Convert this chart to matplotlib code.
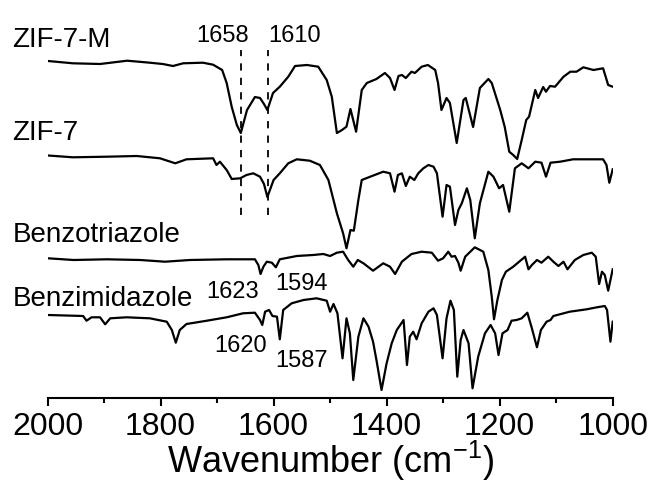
import matplotlib
matplotlib.use("Agg")
import matplotlib.pyplot as plt
from matplotlib.ticker import MultipleLocator

plt.rcParams['font.family'] = ['Liberation Sans', 'DejaVu Sans']
plt.rcParams['mathtext.fontset'] = 'custom'
plt.rcParams['mathtext.rm'] = 'Liberation Sans'
plt.rcParams['mathtext.it'] = 'Liberation Sans'

# ---------------- data (wavenumber cm^-1, intensity a.u. with offsets) ----------------
zif7m_wn = [1999, 1955, 1907, 1859, 1819, 1796, 1778, 1760, 1725, 1707, 1691, 1683, 1674, 1665,
            1658, 1647, 1633, 1624, 1617, 1611, 1601, 1589, 1574, 1562, 1541, 1521, 1506, 1497,
            1488, 1479, 1471, 1464, 1454, 1444, 1435, 1418, 1403, 1394, 1386, 1379, 1373, 1366,
            1356, 1350, 1338, 1327, 1314, 1309, 1303, 1294, 1288, 1276, 1264, 1260, 1247, 1235,
            1220, 1214, 1199, 1191, 1183, 1176, 1169, 1161, 1153, 1148, 1137, 1132, 1123, 1118,
            1111, 1102, 1087, 1075, 1064, 1052, 1034, 1017, 1008, 1000]
zif7m_val = [339, 336.7, 336, 339.3, 337.3, 336, 334, 336.7, 337.3, 335.3, 330, 317, 293, 275,
             267, 290, 303, 302, 296, 290, 307, 313.3, 323.3, 334, 335, 333.3, 320, 303.3,
             267, 270, 273.3, 291, 268.3, 310, 317, 321, 327, 322, 310, 324, 325, 322,
             328.3, 327, 333.3, 335, 330, 317, 290, 302, 297, 257, 300, 302, 273, 312,
             321, 317, 290, 273, 248.3, 245, 241, 260, 280, 283.3, 310, 302, 313, 308.3,
             314, 313.3, 323.3, 328.3, 328.3, 332.7, 330, 331.7, 315, 313.3]

zif7_wn = [1999, 1955, 1895, 1842, 1801, 1774, 1754, 1707, 1701, 1695, 1683, 1674, 1659, 1648,
           1636, 1624, 1617, 1611, 1600, 1589, 1574, 1559, 1536, 1518, 1503, 1488, 1477, 1471,
           1464, 1458, 1450, 1444, 1429, 1406, 1394, 1386, 1380, 1373, 1366, 1359, 1351, 1344,
           1335, 1326, 1317, 1311, 1301, 1294, 1288, 1279, 1273, 1267, 1258, 1252, 1244, 1235,
           1220, 1211, 1201, 1194, 1183, 1173, 1161, 1149, 1137, 1126, 1118, 1110, 1093, 1070,
           1046, 1017, 1011, 1006, 1000]
zif7_val = [244.5, 242.7, 243.3, 244, 241.7, 236.7, 240.7, 241.7, 235, 238.3, 230, 221, 221.7, 225,
            226.7, 223.3, 216, 203, 220, 226.7, 236.7, 240.7, 239.3, 235, 220, 186.7, 166.7, 151.7,
            170, 169.3, 200, 220, 223.3, 228.3, 226.7, 208.3, 225, 226.7, 214, 223.3, 220, 226.7,
            231.7, 235, 233.3, 226.7, 183.3, 215, 213.3, 175, 190, 196.7, 211.7, 200, 161.7, 196.7,
            228.3, 223.3, 211.7, 215, 188.3, 231.7, 236.7, 231.7, 238.3, 237.3, 223.3, 237.3, 238.3, 240.7,
            240.7, 240.7, 235, 217.3, 230.7]

btz_wn = [1999, 1954, 1895, 1836, 1792, 1748, 1683, 1633, 1627, 1623, 1618, 1612, 1603, 1596,
          1589, 1559, 1530, 1512, 1500, 1488, 1477, 1468, 1459, 1451, 1441, 1424, 1406, 1394,
          1385, 1373, 1356, 1338, 1320, 1309, 1300, 1291, 1285, 1279, 1273, 1269, 1261, 1244,
          1229, 1220, 1214, 1210, 1204, 1196, 1189, 1176, 1155, 1149, 1143, 1134, 1126, 1114,
          1105, 1096, 1087, 1080, 1067, 1052, 1037, 1030, 1024, 1019, 1014, 1008, 1000]
btz_val = [141.7, 140, 140.7, 140, 138.3, 140, 140.7, 140.7, 135, 126, 133.3, 138.3, 137.3, 132.7,
           140.7, 144, 145, 146, 144, 147.3, 148.3, 140, 133.3, 140, 136.7, 129.3, 136.7, 133.3,
           126, 138.3, 146, 148.3, 147.3, 139.3, 141.7, 148.3, 143.3, 144, 137.3, 129.3, 143.3, 152.7,
           148.3, 130, 103.3, 80.7, 100, 120, 128.3, 133.3, 143.3, 130.7, 135, 140, 137.3, 143.3,
           138.3, 134, 138.3, 130.7, 140, 145, 147.3, 143.3, 116, 128.3, 125, 109.3, 130.7]

bzi_wn = [1999, 1937, 1931, 1922, 1907, 1898, 1889, 1860, 1819, 1789, 1780, 1773, 1766, 1754,
          1718, 1683, 1654, 1633, 1624, 1620, 1615, 1608, 1602, 1594, 1589, 1583, 1568, 1547,
          1524, 1506, 1500, 1494, 1487, 1478, 1471, 1465, 1459, 1450, 1441, 1432, 1424, 1418,
          1409, 1400, 1391, 1382, 1370, 1364, 1359, 1353, 1347, 1338, 1326, 1317, 1311, 1301,
          1294, 1287, 1281, 1275, 1269, 1264, 1255, 1248, 1238, 1226, 1216, 1208, 1202, 1195,
          1186, 1179, 1170, 1161, 1151, 1143, 1134, 1127, 1117, 1110, 1105, 1076, 1046, 1028,
          1014, 1010, 1004, 1000]
bzi_val = [85, 84, 79.3, 82.7, 82.7, 75.7, 81.7, 82.7, 81.7, 78.3, 70, 57.3, 70, 76,
           79.3, 82.7, 86.7, 87.3, 80, 75, 88.3, 90, 84, 83.3, 60.7, 90, 96.7, 100,
           101.7, 99.3, 88.3, 96, 86.7, 41.7, 81.7, 66.7, 20, 63.3, 81.7, 73.3, 58.3, 40,
           10, 36.7, 56.7, 70, 80, 35, 63.3, 68.3, 60.7, 76.7, 88.3, 91.7, 85, 41.7,
           81.7, 99.3, 90, 23.3, 60, 70, 56.7, 11.7, 43.3, 66.7, 75, 66.7, 45, 66.7,
           70, 79.3, 80, 81.7, 87.3, 71.7, 52.7, 70, 78.3, 80, 84, 88.3, 90.7, 92.7,
           94, 90, 58.3, 78.3]

series_names = ['ZIF-7-M', 'ZIF-7', 'Benzotriazole', 'Benzimidazole']
name_pos = [(2063, 353.3), (2063, 260), (2061, 158.3), (2061, 94)]

marker_wn = [1658, 1610]
peak_labels = ['1658', '1610', '1623', '1594', '1620', '1587']
peak_pos = [(1690, 358.3), (1562, 358.3), (1673, 101.7), (1551, 110), (1659, 48.3), (1551, 33.3)]

xticks = [2000, 1800, 1600, 1400, 1200, 1000]

# ---------------- figure ----------------
W, H = 654, 484
fig = plt.figure(figsize=(W / 100, H / 100), dpi=100)
ax = fig.add_axes([47.5 / W, (H - 398) / H, (612.7 - 47.5) / W, (398 - 20) / H])

for wn, val in [(zif7m_wn, zif7m_val), (zif7_wn, zif7_val), (btz_wn, btz_val), (bzi_wn, bzi_val)]:
    ax.plot(wn, val, color='black', lw=1.6, solid_joinstyle='round')

for m in marker_wn:
    ax.plot([m, m], [185, 350], color='black', lw=1.3, linestyle=(0, (4, 4)))

for name, (x, y) in zip(series_names, name_pos):
    ax.text(x, y, name, fontsize=20, ha='left', va='baseline', clip_on=False)

for lab, (x, y) in zip(peak_labels, peak_pos):
    ax.text(x, y, lab, fontsize=17, ha='center', va='baseline', clip_on=False)

ax.set_xlim(2000, 1000)
ax.set_ylim(2, 380)
for s in ['top', 'left', 'right']:
    ax.spines[s].set_visible(False)
ax.spines['bottom'].set_linewidth(1.5)
ax.set_yticks([])
ax.set_xticks(xticks)
ax.xaxis.set_minor_locator(MultipleLocator(100))
ax.tick_params(axis='x', which='major', direction='out', length=6, width=1.5, labelsize=23, pad=4)
ax.tick_params(axis='x', which='minor', direction='out', length=3.5, width=1.5)
ax.set_xlabel('Wavenumber (cm$^{\\mathregular{-1}}$)', fontsize=26, labelpad=-2)

fig.savefig('out.png', dpi=100)
